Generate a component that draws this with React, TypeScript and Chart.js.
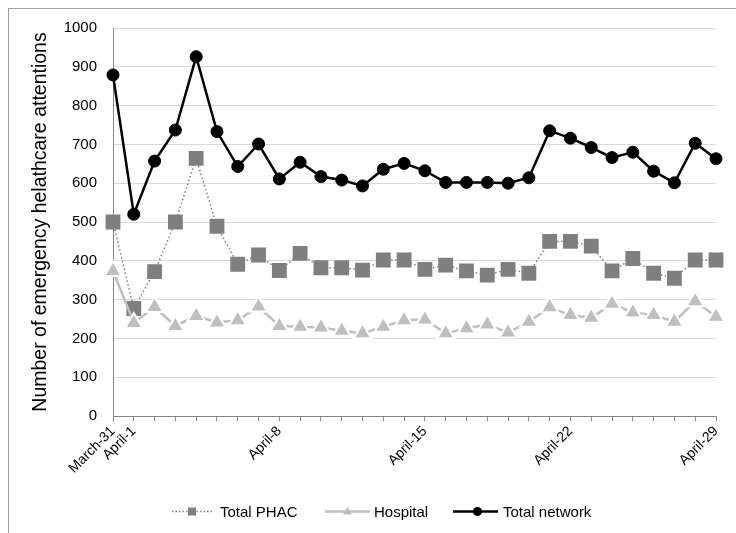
import React, { useEffect, useRef } from 'react';
import { Chart, registerables } from 'chart.js';

Chart.register(...registerables);

const categories = [
  'March-31', 'April-1', 'April-2', 'April-3', 'April-4', 'April-5', 'April-6', 'April-7',
  'April-8', 'April-9', 'April-10', 'April-11', 'April-12', 'April-13', 'April-14',
  'April-15', 'April-16', 'April-17', 'April-18', 'April-19', 'April-20', 'April-21',
  'April-22', 'April-23', 'April-24', 'April-25', 'April-26', 'April-27', 'April-28', 'April-29',
];
const shownLabels = ['March-31', 'April-1', 'April-8', 'April-15', 'April-22', 'April-29'];

const totalPHAC = [
  500, 277, 372, 500, 664, 489, 391, 415, 375, 419, 382, 382, 376, 402, 402,
  378, 389, 374, 363, 378, 368, 450, 450, 438, 374, 406, 368, 355, 402, 402,
];
const hospital = [
  374, 240, 281, 232, 258, 241, 247, 282, 232, 230, 228, 220, 213, 230, 247,
  249, 213, 226, 236, 215, 243, 280, 260, 253, 289, 267, 260, 243, 296, 256,
];
const totalNetwork = [
  879, 520, 657, 737, 926, 733, 643, 701, 611, 654, 617, 608, 593, 636, 651,
  632, 602, 602, 602, 600, 614, 735, 716, 692, 666, 680, 631, 601, 703, 663,
];

const yMin = 0;
const yMax = 1000;
const yStep = 100;
const yTitle = 'Number of emergency helathcare attentions';
const seriesNames = ['Total PHAC', 'Hospital', 'Total network'];

const PHAC_COLOR = '#7f7f7f';
const HOSP_COLOR = '#bfbfbf';
const NET_COLOR = '#000000';
const SANS = "'Liberation Sans', Arial, sans-serif";

const legendPlugin = {
  id: 'customLegend',
  afterDraw(chart: any) {
    const ctx = chart.ctx;
    const y = 511.5;
    ctx.save();
    ctx.font = `15px ${SANS}`;
    ctx.textBaseline = 'middle';
    ctx.fillStyle = '#000';
    // Total PHAC
    ctx.strokeStyle = PHAC_COLOR;
    ctx.lineWidth = 1.5;
    ctx.setLineDash([1.5, 2]);
    ctx.beginPath();
    ctx.moveTo(172, y);
    ctx.lineTo(214, y);
    ctx.stroke();
    ctx.setLineDash([]);
    ctx.fillStyle = PHAC_COLOR;
    ctx.fillRect(188, y - 4, 8, 8);
    ctx.fillStyle = '#000';
    ctx.fillText(seriesNames[0], 220, y + 1);
    // Hospital
    ctx.strokeStyle = HOSP_COLOR;
    ctx.lineWidth = 2.5;
    ctx.beginPath();
    ctx.moveTo(325, y);
    ctx.lineTo(370, y);
    ctx.stroke();
    ctx.fillStyle = HOSP_COLOR;
    ctx.beginPath();
    ctx.moveTo(347.5, y - 5);
    ctx.lineTo(352, y + 3);
    ctx.lineTo(343, y + 3);
    ctx.closePath();
    ctx.fill();
    ctx.fillStyle = '#000';
    ctx.fillText(seriesNames[1], 374, y + 1);
    // Total network
    ctx.strokeStyle = NET_COLOR;
    ctx.lineWidth = 2.5;
    ctx.beginPath();
    ctx.moveTo(453, y);
    ctx.lineTo(498, y);
    ctx.stroke();
    ctx.fillStyle = NET_COLOR;
    ctx.beginPath();
    ctx.arc(477.5, y, 4.5, 0, Math.PI * 2);
    ctx.fill();
    ctx.fillStyle = '#000';
    ctx.fillText(seriesNames[2], 503, y + 1);
    ctx.restore();
  },
};

export default function App() {
  const canvasRef = useRef<HTMLCanvasElement | null>(null);

  useEffect(() => {
    if (!canvasRef.current) return;
    const chart = new Chart(canvasRef.current, {
      type: 'line',
      data: {
        labels: categories,
        datasets: [
          {
            label: seriesNames[0],
            data: totalPHAC,
            order: 3,
            borderColor: PHAC_COLOR,
            borderWidth: 1.5,
            borderDash: [1.5, 2.5],
            backgroundColor: PHAC_COLOR,
            pointStyle: 'rect',
            pointRadius: 10.5,
            pointBorderWidth: 0,
            pointBackgroundColor: PHAC_COLOR,
            pointBorderColor: PHAC_COLOR,
            tension: 0,
          },
          {
            label: seriesNames[1],
            data: hospital,
            order: 2,
            borderColor: HOSP_COLOR,
            borderWidth: 2.5,
            backgroundColor: HOSP_COLOR,
            pointStyle: 'triangle',
            pointRadius: 10,
            pointBorderWidth: 2,
            pointBackgroundColor: HOSP_COLOR,
            pointBorderColor: '#ffffff',
            tension: 0,
          },
          {
            label: seriesNames[2],
            data: totalNetwork,
            order: 1,
            borderColor: NET_COLOR,
            borderWidth: 2.5,
            backgroundColor: NET_COLOR,
            pointStyle: 'circle',
            pointRadius: 6,
            pointBorderWidth: 1,
            pointBackgroundColor: NET_COLOR,
            pointBorderColor: NET_COLOR,
            tension: 0,
          },
        ],
      },
      options: {
        animation: false,
        responsive: false,
        maintainAspectRatio: false,
        layout: { padding: { top: 28, right: 20, left: 0, bottom: 0 } },
        plugins: {
          legend: { display: false },
          tooltip: { enabled: false },
          title: { display: false },
        },
        scales: {
          x: {
            type: 'category',
            offset: false,
            afterFit: (scale: any) => {
              scale.height = 117;
            },
            grid: {
              display: true,
              drawOnChartArea: false,
              drawTicks: true,
              tickLength: 5,
              color: '#868686',
              tickColor: '#868686',
            },
            border: { display: true, color: '#868686', width: 1 },
            ticks: {
              autoSkip: false,
              maxRotation: 45,
              minRotation: 45,
              padding: 2,
              color: '#000',
              font: { family: SANS, size: 14 },
              callback: (_v: any, idx: number) =>
                shownLabels.includes(categories[idx]) ? categories[idx] : '',
            },
          },
          y: {
            min: yMin,
            max: yMax,
            afterFit: (scale: any) => {
              scale.width = 113;
            },
            grid: {
              color: '#d9d9d9',
              lineWidth: 1,
              drawTicks: false,
            },
            border: { display: true, color: '#868686', width: 1 },
            ticks: {
              stepSize: yStep,
              padding: 16,
              color: '#000',
              font: { family: SANS, size: 15 },
              callback: (v: any) => String(v),
            },
            title: {
              display: true,
              text: yTitle,
              color: '#000',
              font: { family: SANS, size: 19.5 },
              padding: { top: 29, bottom: 0 },
            },
          },
        },
      },
      plugins: [legendPlugin],
    });
    return () => chart.destroy();
  }, []);

  return (
    <div
      style={{
        position: 'fixed',
        left: 0,
        top: 0,
        width: 736,
        height: 533,
        overflow: 'hidden',
        background: '#fff',
      }}
    >
      <div
        style={{
          position: 'absolute',
          left: 8,
          top: 8,
          width: 800,
          height: 600,
          borderLeft: '1px solid #a0a0a0',
          borderTop: '1px solid #a0a0a0',
        }}
      />
      <canvas
        ref={canvasRef}
        width={736}
        height={533}
        style={{ position: 'absolute', left: 0, top: 0, width: 736, height: 533 }}
      />
    </div>
  );
}
